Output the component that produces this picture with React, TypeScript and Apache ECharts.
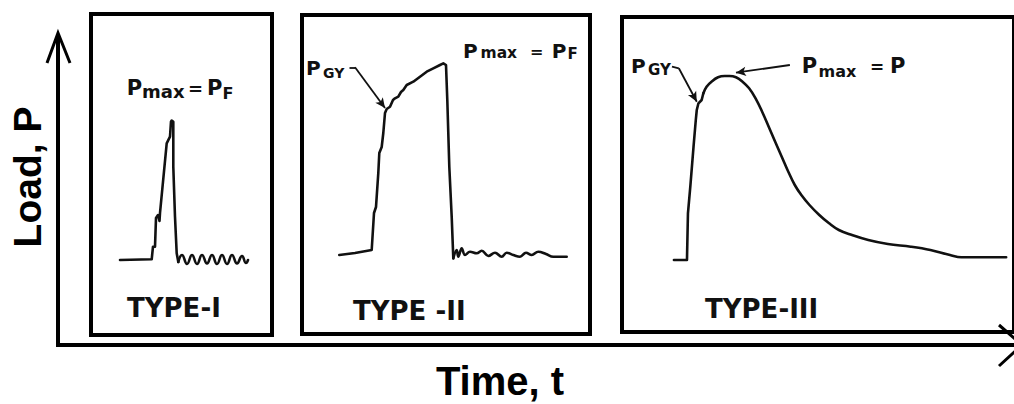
import React, { useEffect, useRef } from "react";
import * as echarts from "echarts";

// ---- Data (time / load in arbitrary units) ----
const panelLabels = ["TYPE-I", "TYPE -II", "TYPE-III"];
const panelTimeMax = [181, 288, 400];
const panelLoadMax = [321, 319, 315];

// Type I
const t1PulseTime = [29, 60.7, 62, 64, 65, 67, 68.5, 69, 75.7, 79, 80, 80.7, 82.3, 82.3, 84, 85.7, 87.3];
const t1PulseLoad = [75, 75.7, 88.3, 88.3, 117, 120, 114, 122, 191.7, 198.3, 213.3, 214.5, 213.3, 168.3, 118.3, 81.7, 73];
const t1RingTime = [87.3, 91, 96, 101, 106, 111, 116, 121, 126, 131, 136, 141, 146, 151, 155, 157];
const t1RingLoad = [73, 80, 71, 80, 71, 80, 71.5, 80, 71, 80, 71, 80, 71.5, 79, 72, 75];

// Type II
const t2PulseTime = [37.3, 53, 69.7, 72, 74, 76.3, 77.3, 79.7, 81.3, 83, 84.7, 88, 91, 93, 96.3, 99, 101.3, 104.7, 111.3, 118, 124.7, 131.3, 138, 141.3, 144, 145.3, 147.3, 149.7, 151.3];
const t2PulseLoad = [79, 81, 84, 121, 127, 161, 181, 187, 201, 221, 225, 227.3, 234, 235.7, 237.3, 242, 244, 249, 252.3, 257.3, 262.3, 265.7, 269, 270.7, 269, 234, 167.3, 117.3, 75.7];
const t2RingTime = [151.3, 154.7, 156.3, 159.7, 163, 168, 174.7, 179.7, 186.3, 193, 199.7, 204.7, 211.3, 218, 224, 229.7, 236.3, 244, 251.3, 264.7];
const t2RingLoad = [75.7, 84, 77.3, 85.7, 79, 82.3, 80.7, 83.3, 78, 81.3, 77.3, 81.3, 79, 77.3, 81.3, 79, 82.3, 80, 77.3, 77.3];

// Type III
const t3RiseTime = [53, 66.3, 67.3, 69.7, 73, 75.3, 76.3, 78, 81.3, 83];
const t3RiseLoad = [72, 72, 118.7, 145.3, 185.3, 212, 222, 228.7, 232, 238.7];
const t3DecayTime = [83, 86.3, 91.3, 98, 104.7, 109.7, 116.3, 123, 129.7, 136.3, 143, 149.7, 156.3, 163, 169.7, 176.3, 183, 191.3, 201.3, 211.3, 221.3, 234.7, 251.3, 271.3, 294.7, 314.7, 334.7, 346.3, 361.3, 392];
const t3DecayLoad = [238.7, 245.3, 250.3, 254.7, 256, 256, 254.7, 250.3, 243.7, 233.7, 220.3, 205.3, 190.3, 175.3, 160.3, 147, 137, 127, 117, 108.7, 102, 97, 92, 88, 85.3, 82, 77, 74.7, 74.7, 74.7];

// Annotation leaders [time, load]
const t2GyLeader = [[47.5, 266.7], [53, 266.7], [83, 226]];
const t3GyLeader = [[51, 265.3], [58, 263.7], [76.3, 230.3]];
const t3MaxLeader = [[171.3, 267], [116.3, 259.3]];

const INK = "#111";
const zip = (a: number[], b: number[]) => a.map((v, i) => [v, b[i]]);

function leaderMarkLine(pts: number[][]) {
  const data: any[] = [];
  for (let i = 0; i < pts.length - 1; i++) {
    const last = i === pts.length - 2;
    data.push([
      { coord: pts[i], symbol: "none" },
      { coord: pts[i + 1], symbol: last ? "arrow" : "none", symbolSize: [7, 10] },
    ]);
  }
  return {
    silent: true,
    animation: false,
    symbol: ["none", "none"],
    symbolSize: [7, 10],
    label: { show: false },
    lineStyle: { type: "solid", color: INK, width: 1.8 },
    emphasis: { disabled: true },
    data,
  };
}

const TITLE_FONT = "'Liberation Sans', Arial, sans-serif";
const LETTER_FONT = "'DejaVu Sans', sans-serif";
function txt(text: string, x: number, baseline: number, fs: number, extra: any = {}) {
  return {
    type: "text",
    x,
    y: baseline - 0.35 * fs,
    silent: true,
    style: {
      text,
      fill: INK,
      fontSize: fs,
      fontFamily: LETTER_FONT,
      fontWeight: "bold",
      align: "left",
      verticalAlign: "middle",
      textAlign: "left",
      textVerticalAlign: "middle",
      ...extra,
    },
  };
}

export default function App() {
  const ref = useRef<HTMLDivElement>(null);
  useEffect(() => {
    if (!ref.current) return;
    const chart = echarts.init(ref.current, null, { renderer: "svg" });
    const grids = [
      { left: 91, top: 14, width: 181, height: 321 },
      { left: 302, top: 15, width: 288, height: 319 },
      { left: 622, top: 17, width: 400, height: 315 },
    ].map((g) => ({ ...g, show: true, borderWidth: 4, borderColor: "#000", backgroundColor: "transparent", containLabel: false }));

    const xAxis = panelTimeMax.map((m, i) => ({ type: "value", gridIndex: i, min: 0, max: m, show: false }));
    const yAxis = panelLoadMax.map((m, i) => ({ type: "value", gridIndex: i, min: 0, max: m, show: false }));

    const lineBase = (i: number, data: number[][], smooth: number | boolean, extra: any = {}) => ({
      type: "line",
      xAxisIndex: i,
      yAxisIndex: i,
      data,
      smooth,
      showSymbol: false,
      symbol: "none",
      silent: true,
      lineStyle: { color: INK, width: 2.6, join: "round", cap: "round" },
      ...extra,
    });

    const series = [
      lineBase(0, zip(t1PulseTime, t1PulseLoad), false),
      lineBase(0, zip(t1RingTime, t1RingLoad), 0.5),
      lineBase(1, zip(t2PulseTime, t2PulseLoad), false, { markLine: leaderMarkLine(t2GyLeader) }),
      lineBase(1, zip(t2RingTime, t2RingLoad), 0.4),
      lineBase(2, zip(t3RiseTime, t3RiseLoad), false, { markLine: leaderMarkLine(t3GyLeader) }),
      lineBase(2, zip(t3DecayTime, t3DecayLoad), 0.4, { markLine: leaderMarkLine(t3MaxLeader) }),
    ];

    const graphic: any[] = [
      // main axes
      { type: "line", silent: true, shape: { x1: 58, y1: 347, x2: 58, y2: 34 }, style: { stroke: "#000", lineWidth: 4 } },
      { type: "line", silent: true, shape: { x1: 56, y1: 345, x2: 1020, y2: 345 }, style: { stroke: "#000", lineWidth: 4 } },
      { type: "polyline", silent: true, shape: { points: [[47, 63], [58, 33], [70, 63]] }, style: { stroke: "#000", lineWidth: 3, fill: "none" } },
      { type: "polyline", silent: true, shape: { points: [[999, 325], [1022, 345], [999, 366]] }, style: { stroke: "#000", lineWidth: 3, fill: "none" } },
      // axis titles
      {
        type: "text", silent: true, x: 27, y: 177, rotation: Math.PI / 2,
        style: { text: "Load, P", fill: "#000", fontSize: 39, fontFamily: TITLE_FONT, fontWeight: "bold", align: "center", verticalAlign: "middle", textAlign: "center", textVerticalAlign: "middle" },
      },
      {
        type: "text", silent: true, x: 500, y: 381,
        style: { text: "Time, t", fill: "#000", fontSize: 40, fontFamily: TITLE_FONT, fontWeight: "bold", align: "center", verticalAlign: "middle", textAlign: "center", textVerticalAlign: "middle" },
      },
      // panel 1 label
      txt("P", 126.7, 95, 21),
      txt("max", 142, 97.5, 18),
      txt("=", 188, 95, 18),
      txt("P", 207, 95, 21),
      txt("F", 222.5, 99.5, 16),
      // panel 2 labels
      txt("P", 463, 58, 20),
      txt("max", 480.5, 58.5, 15.5),
      txt("=", 530, 57, 16),
      txt("P", 551.7, 58, 20),
      txt("F", 567.5, 59.5, 15),
      txt("P", 306, 75, 20),
      txt("GY", 323, 77.5, 14),
      // panel 3 labels
      txt("P", 631, 73.3, 20),
      txt("GY", 648, 75.5, 15),
      txt("P", 801.7, 73.3, 21),
      txt("max", 818.5, 77, 16),
      txt("=", 870, 73, 17),
      txt("P", 890, 73.3, 21),
      // panel type names
      txt(panelLabels[0], 127, 317, 26),
      txt(panelLabels[1], 353, 320, 26),
      txt(panelLabels[2], 705, 318, 26),
    ];

    chart.setOption({
      animation: false,
      backgroundColor: "#fff",
      grid: grids,
      xAxis,
      yAxis,
      series,
      graphic,
    });
    return () => chart.dispose();
  }, []);
  return <div ref={ref} style={{ position: "fixed", left: 0, top: 0, width: 1014, height: 404 }} />;
}
